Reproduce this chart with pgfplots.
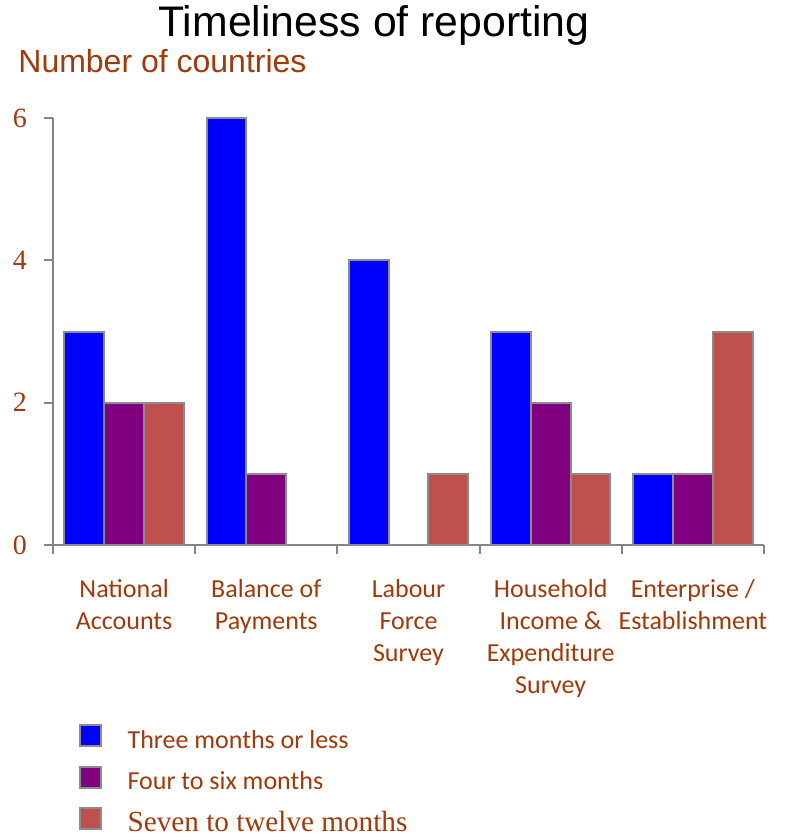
\documentclass[border=0pt]{standalone}
\usepackage{pgfplots}
\pgfplotsset{compat=1.18}
\usepackage{fontspec}
\setmainfont{Liberation Serif}
\newfontfamily\carlito{Carlito}
\newfontfamily\arial{Liberation Sans}
\definecolor{txtbrown}{RGB}{160,58,10}
\definecolor{barline}{RGB}{140,140,140}
\definecolor{axgray}{RGB}{134,134,134}
\definecolor{cblue}{RGB}{0,0,255}
\definecolor{cpurple}{RGB}{128,0,128}
\definecolor{cred}{RGB}{192,80,77}
\begin{document}
\begin{tikzpicture}
\useasboundingbox (-26.5pt,-145.5pt) rectangle (367.5pt,272.5pt);
\begin{axis}[
  at={(0,0)}, anchor=south west,
  scale only axis, width=355.5pt, height=213.5pt,
  xmin=-0.5, xmax=4.5, ymin=0, ymax=6,
  axis x line=bottom, axis y line=left,
  axis line style={-, draw=axgray, line width=1pt},
  tick style={draw=axgray, line width=1pt},
  tick align=outside,
  xtick={0,1,2,3,4},
  xticklabels={{National\\Accounts},{Balance of\\Payments},{Labour\\Force\\Survey},{Household\\Income \&\\Expenditure\\Survey},{Enterprise /\\Establishment}},
  major x tick style={draw=none},
  minor xtick={-0.5,0.5,1.5,2.5,3.5,4.5},
  minor tick length=4.5pt,
  major tick length=4.5pt,
  x tick label style={align=center, font=\carlito\fontsize{13}{16}\selectfont, text=txtbrown, yshift=-9pt},
  ytick={0,2,4,6},
  y tick label style={font=\fontsize{14}{16}\selectfont, text=txtbrown, xshift=-5pt},
  /pgf/number format/assume math mode=true,
  ybar, bar width=0.28,
  every axis plot/.append style={draw=barline, line width=1pt},
  clip=false,
  legend style={at={(axis description cs:0.027,-0.41)}, anchor=north west, draw=none, fill=none,
    font=\carlito\fontsize{13}{16}\selectfont, text=txtbrown, row sep=6.8pt,
    nodes={text height=9.5pt, text depth=0pt},
    /tikz/every odd column/.append style={column sep=11pt}},
  legend cell align=left,
  legend image code/.code={\draw[#1] (0pt,-3.8pt) rectangle (10.5pt,6.7pt);},
]
\addplot[fill=cblue, bar shift=-0.28] coordinates {(0,3) (1,6) (2,4) (3,3) (4,1)};
\addlegendentry{Three months or less}
\addplot[fill=cpurple, bar shift=0] coordinates {(0,2) (1,1) (3,2) (4,1)};
\addlegendentry{Four to six months}
\addplot[fill=cred, bar shift=0.28] coordinates {(0,2) (2,1) (3,1) (4,3)};
\addlegendentry{{\rmfamily\fontsize{14.6}{16}\selectfont Seven to twelve months}}
\end{axis}
\node[anchor=base, inner sep=0pt, font=\arial\fontsize{21.4}{24}\selectfont] at (160.5pt,254pt) {Timeliness of reporting};
\node[anchor=base west, inner sep=0pt, font=\arial\fontsize{16}{18}\selectfont, text=txtbrown] at (-17.5pt,236pt) {Number of countries};
\end{tikzpicture}
\end{document}
